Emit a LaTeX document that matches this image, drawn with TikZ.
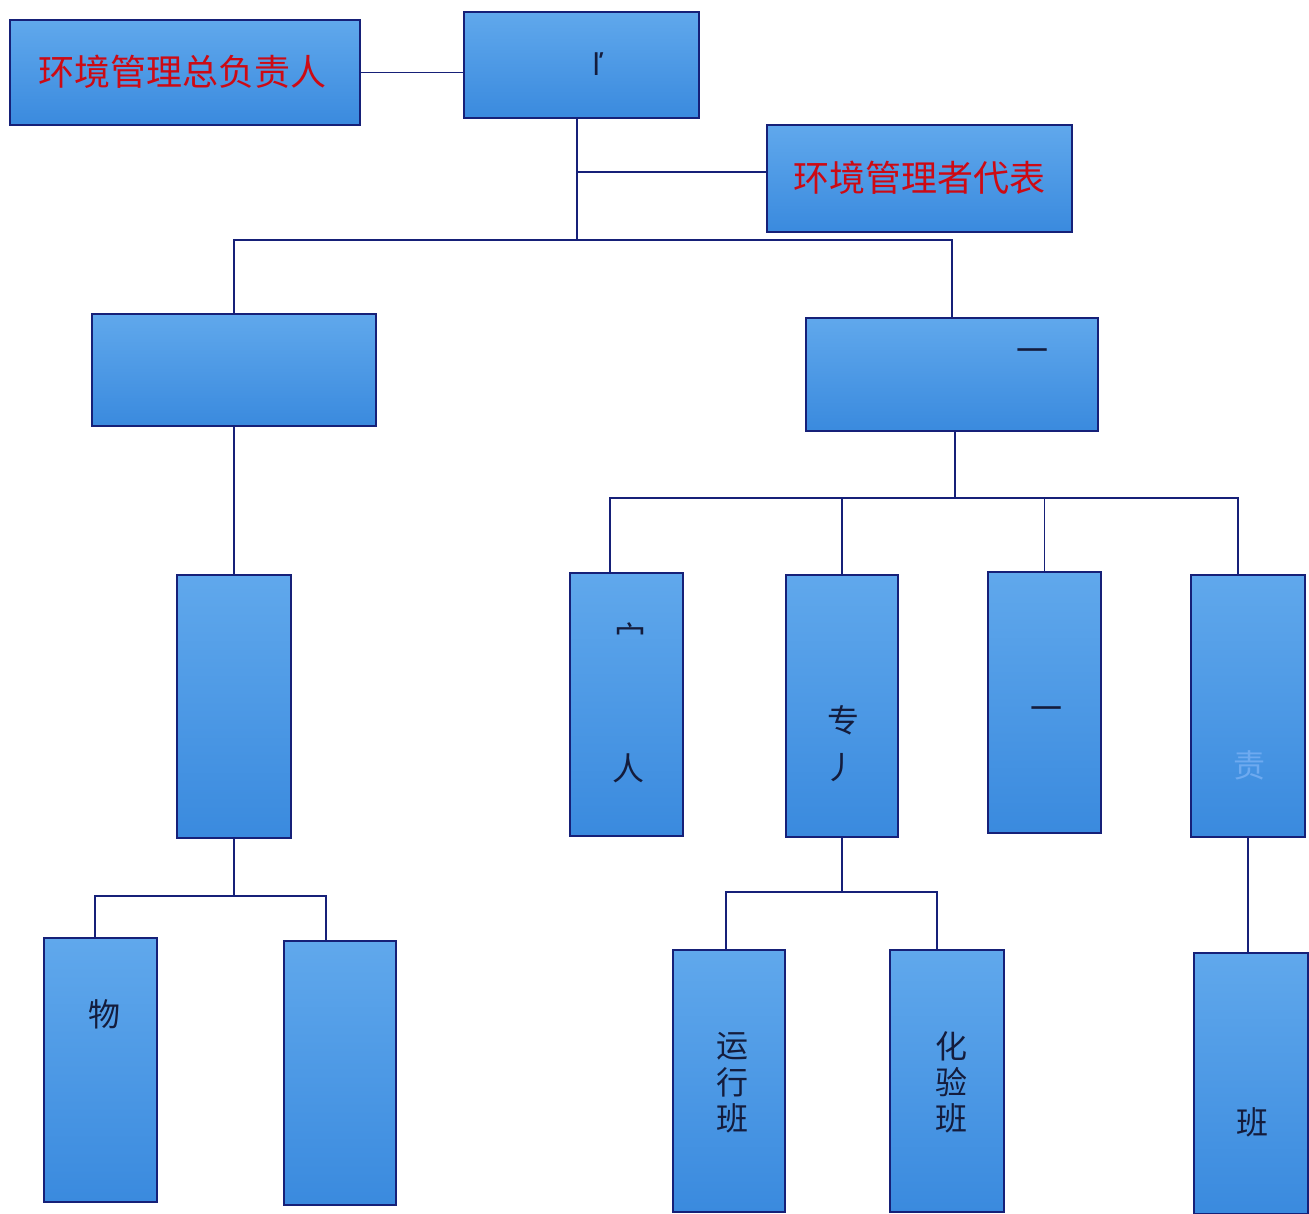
\documentclass[tikz,border=0pt]{standalone}
\usepackage{fontspec}
\newfontfamily\cjk{Noto Sans CJK SC}
\newfontfamily\lat{DejaVu Sans}
\definecolor{boxline}{RGB}{22,32,120}
\definecolor{boxtop}{RGB}{96,168,236}
\definecolor{boxbot}{RGB}{58,138,222}
\definecolor{redtxt}{RGB}{205,10,20}
\definecolor{darktxt}{RGB}{20,28,60}
\definecolor{paletxt}{RGB}{110,170,240}
\begin{document}
\begin{tikzpicture}[x=1pt,y=-1pt,
  box/.style={draw=boxline, line width=1.8pt, top color=boxtop, bottom color=boxbot, inner sep=0pt},
  conn/.style={draw=boxline, line width=1.4pt},
  redlabel/.style={text=redtxt, font=\cjk\fontsize{36}{40}\selectfont},
  darklabel/.style={text=darktxt, font=\cjk\fontsize{32}{36}\selectfont},
  vchar/.style={text=darktxt, font=\cjk\fontsize{32}{32}\selectfont, inner sep=0pt}]
\useasboundingbox (0,0) rectangle (1309,1214);
\fill[white] (0,0) rectangle (1309,1214);
% boxes
\node[box, minimum width=350pt, minimum height=105pt] (A) at (185,72.5) {};
\node[box, minimum width=235pt, minimum height=106pt] (B) at (581.5,65) {};
\node[box, minimum width=305pt, minimum height=107pt] (C) at (919.5,178.5) {};
\node[box, minimum width=284pt, minimum height=112pt] (D) at (234,370) {};
\node[box, minimum width=292pt, minimum height=113pt] (E) at (952,374.5) {};
\node[box, minimum width=114pt, minimum height=263pt] (F) at (234,706.5) {};
\node[box, minimum width=113pt, minimum height=263pt] (G1) at (626.5,704.5) {};
\node[box, minimum width=112pt, minimum height=262pt] (G2) at (842,706) {};
\node[box, minimum width=113pt, minimum height=261pt] (G3) at (1044.5,702.5) {};
\node[box, minimum width=114pt, minimum height=262pt] (G4) at (1248,706) {};
\node[box, minimum width=113pt, minimum height=264pt] (H1) at (100.5,1070) {};
\node[box, minimum width=112pt, minimum height=264pt] (H2) at (340,1073) {};
\node[box, minimum width=112pt, minimum height=262pt] (I1) at (729,1081) {};
\node[box, minimum width=114pt, minimum height=262pt] (I2) at (947,1081) {};
\node[box, minimum width=114pt, minimum height=261pt] (J) at (1251,1083.5) {};
% labels
\node[redlabel] (tA) at (182,72) {环境管理总负责人};
\node[redlabel] (tC) at (919,178) {环境管理者代表};
\node[text=darktxt, font=\lat\fontsize{30}{34}\selectfont] (tB) at (598,64) {ľ};
\node[darklabel] (tE) at (1032,356) {一};
\node[darklabel] (tG1a) at (630,636) {宀};
\node[darklabel] (tG1b) at (628,768) {人};
\node[darklabel] (tG2a) at (843,720) {专};
\node[darklabel] (tG2b) at (840,768) {丿};
\node[darklabel] (tG3) at (1046,714) {一};
\node[text=paletxt, font=\cjk\fontsize{32}{36}\selectfont] (tG4) at (1249,765) {责};
\node[darklabel] (tH1) at (104,1014) {物};
\node[vchar] (tI1a) at (732,1046) {运};
\node[vchar] (tI1b) at (732,1082) {行};
\node[vchar] (tI1c) at (732,1118) {班};
\node[vchar] (tI2a) at (951,1046) {化};
\node[vchar] (tI2b) at (951,1082) {验};
\node[vchar] (tI2c) at (951,1118) {班};
\node[darklabel] (tJ) at (1252,1122) {班};
% junctions
\coordinate (jc) at (577,172);
\coordinate (j1) at (577,240);
\coordinate (j2) at (955,498);
\coordinate (j3) at (234,896);
\coordinate (j4) at (842,892);
\coordinate (dG1) at (610,498);
\coordinate (dG4) at (1238,498);
\coordinate (dH1) at (95,896);
\coordinate (dH2) at (326,896);
\coordinate (dI1) at (726,892);
\coordinate (dI2) at (937,892);
% connectors
\draw[conn] (A.east) -- (A.east -| B.west);
\draw[conn] (B.south -| j1) -- (j1);
\draw[conn] (jc) -- (jc -| C.west);
\draw[conn] (D.north) |- (j1) -| (E.north);
\draw[conn] (D.south) -- (F.north);
\draw[conn] (E.south -| j2) -- (j2);
\draw[conn] (dG1 |- G1.north) -- (dG1) -- (dG4) -- (dG4 |- G4.north);
\draw[conn] (G2.north) -- (G2.north |- j2);
\draw[conn] (G3.north) -- (G3.north |- j2);
\draw[conn] (F.south) -- (j3);
\draw[conn] (dH1 |- H1.north) -- (dH1) -- (dH2) -- (dH2 |- H2.north);
\draw[conn] (G2.south) -- (j4);
\draw[conn] (dI1 |- I1.north) -- (dI1) -- (dI2) -- (dI2 |- I2.north);
\draw[conn] (G4.south) -- (G4.south |- J.north);
\end{tikzpicture}
\end{document}
